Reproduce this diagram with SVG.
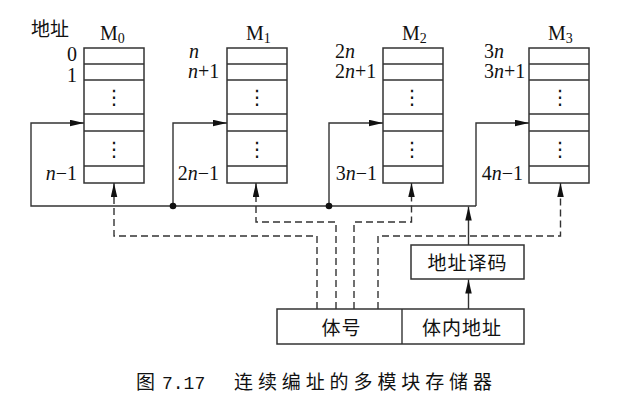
<svg xmlns="http://www.w3.org/2000/svg" width="628" height="408" viewBox="0 0 628 408">
<style>
.box{fill:#fff;stroke:#333;stroke-width:1.5}
.ln{fill:none;stroke:#333;stroke-width:1.4}
.dash{fill:none;stroke:#333;stroke-width:1.4;stroke-dasharray:7 4}
.lat{font-family:"Liberation Serif","DejaVu Serif",serif;font-size:20px;fill:#111}
.it{font-style:italic}
.cjk{font-family:"Noto Sans CJK SC",sans-serif;font-size:19px;fill:#111}
.dots{font-family:"DejaVu Sans",sans-serif;font-size:20px;fill:#111;text-anchor:middle}
</style>
<defs>
<marker id="ah" markerUnits="userSpaceOnUse" markerWidth="14" markerHeight="7" refX="14" refY="3.25" orient="auto">
<path d="M0,0 L14,3.25 L0,6.5 z" fill="#111"/>
</marker>
</defs>
<text class="cjk" x="31" y="35.5">地址</text>
<g id="M0">
<rect class="box" x="84" y="48" width="60" height="135"/>
<path class="ln" d="M84,64H144M84,80H144M84,114H144M84,131H144M84,166H144"/>
<text class="dots" x="114" y="104">⋮</text>
<text class="dots" x="114" y="156">⋮</text>
<text class="lat" x="100" y="40">M<tspan font-size="14" dy="2.5">0</tspan></text>
<text class="lat" x="77" y="61" font-size="19" text-anchor="end">0</text>
<text class="lat" x="77" y="81.5" font-size="19" text-anchor="end">1</text>
<text class="lat" x="77" y="180" text-anchor="end"><tspan class="it">n</tspan>−1</text>
</g>
<g id="M1">
<rect class="box" x="227" y="48" width="60" height="135"/>
<path class="ln" d="M227,64H287M227,80H287M227,114H287M227,131H287M227,166H287"/>
<text class="dots" x="257" y="104">⋮</text>
<text class="dots" x="257" y="156">⋮</text>
<text class="lat" x="246" y="40">M<tspan font-size="14" dy="2.5">1</tspan></text>
<text class="lat it" x="189" y="58">n</text>
<text class="lat" x="188" y="78"><tspan class="it">n</tspan>+1</text>
<text class="lat" x="219" y="180" text-anchor="end">2<tspan class="it">n</tspan>−1</text>
</g>
<g id="M2">
<rect class="box" x="383" y="48" width="60" height="135"/>
<path class="ln" d="M383,64H443M383,80H443M383,114H443M383,131H443M383,166H443"/>
<text class="dots" x="412" y="104">⋮</text>
<text class="dots" x="412" y="156">⋮</text>
<text class="lat" x="402" y="40">M<tspan font-size="14" dy="2.5">2</tspan></text>
<text class="lat" x="335" y="58">2<tspan class="it">n</tspan></text>
<text class="lat" x="335" y="78">2<tspan class="it">n</tspan>+1</text>
<text class="lat" x="377" y="180" text-anchor="end">3<tspan class="it">n</tspan>−1</text>
</g>
<g id="M3">
<rect class="box" x="529" y="48" width="60" height="135"/>
<path class="ln" d="M529,64H589M529,80H589M529,114H589M529,131H589M529,166H589"/>
<text class="dots" x="560" y="104">⋮</text>
<text class="dots" x="560" y="156">⋮</text>
<text class="lat" x="548" y="40">M<tspan font-size="14" dy="2.5">3</tspan></text>
<text class="lat" x="484" y="58">3<tspan class="it">n</tspan></text>
<text class="lat" x="484" y="78">3<tspan class="it">n</tspan>+1</text>
<text class="lat" x="523" y="180" text-anchor="end">4<tspan class="it">n</tspan>−1</text>
</g>
<g id="decoder">
<rect class="box" x="411" y="245" width="113" height="34"/>
<text class="cjk" x="467.5" y="270" text-anchor="middle" letter-spacing="1">地址译码</text>
</g>
<g id="address">
<rect class="box" x="277" y="309" width="247" height="35"/>
<path class="ln" d="M402,309V344"/>
<text class="cjk" x="341.5" y="335" text-anchor="middle" letter-spacing="1">体号</text>
<text class="cjk" x="462" y="335" text-anchor="middle" letter-spacing="1">体内地址</text>
</g>
<g id="connectors">
<path class="ln" d="M476,206H31V123H84" marker-end="url(#ah)"/>
<path class="ln" d="M173,206V123H227" marker-end="url(#ah)"/>
<path class="ln" d="M329,206V123H383" marker-end="url(#ah)"/>
<path class="ln" d="M476,206V123H529" marker-end="url(#ah)"/>
<circle cx="173" cy="206" r="3.3" fill="#111"/>
<circle cx="329" cy="206" r="3.3" fill="#111"/>
<path class="ln" d="M468.5,245V206.5" marker-end="url(#ah)"/>
<path class="ln" d="M468.5,309V279.5" marker-end="url(#ah)"/>
<path class="dash" d="M317,309V236H114V195"/>
<path class="dash" d="M336,309V222H256V195"/>
<path class="dash" d="M354,309V222H411.5V195"/>
<path class="dash" d="M378,309V236H560.5V195"/>
<path class="ln" d="M114,196V183" marker-end="url(#ah)"/>
<path class="ln" d="M256,196V183" marker-end="url(#ah)"/>
<path class="ln" d="M411.5,196V183" marker-end="url(#ah)"/>
<path class="ln" d="M560.5,196V183" marker-end="url(#ah)"/>
</g>
<text class="cjk" x="136" y="389" font-size="18">图</text>
<text x="162" y="389" font-family="'Liberation Mono',monospace" font-size="18" fill="#111">7.17</text>
<text class="cjk" x="234" y="389" font-size="18" letter-spacing="4.9">连续编址的多模块存储器</text>
</svg>
